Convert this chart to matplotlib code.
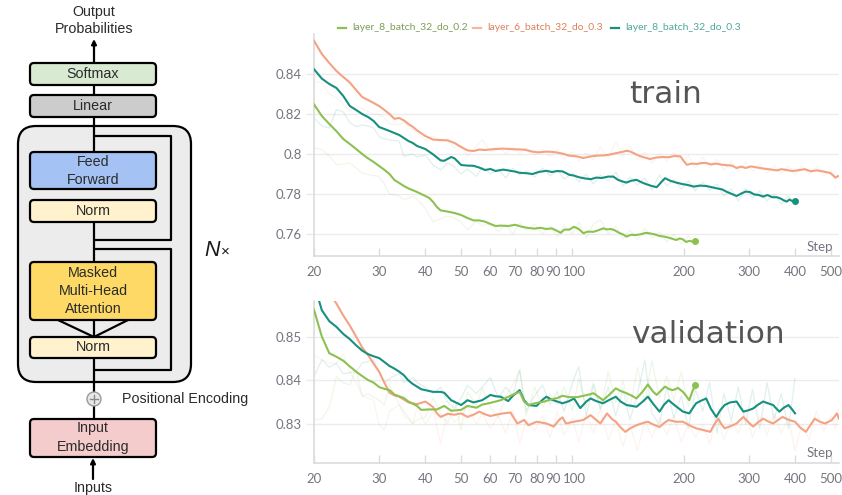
import matplotlib.pyplot as plt
from matplotlib.patches import FancyBboxPatch, Circle
from matplotlib.lines import Line2D

plt.rcParams['font.family'] = 'Lato'

GREEN = '#8cc152'
TEAL = '#17907f'
ORANGE = '#f3a384'
GREEN_TXT = '#7c9e5a'
ORANGE_TXT = '#e0805a'
TEAL_TXT = '#4fa89c'
TICK_COLOR = '#75757f'

run_names = ['layer_8_batch_32_do_0.2', 'layer_6_batch_32_do_0.3', 'layer_8_batch_32_do_0.3']
x_ticks = [20, 30, 40, 50, 60, 70, 80, 90, 100, 200, 300, 400, 500]
train_yticks = [0.76, 0.78, 0.80, 0.82, 0.84]
train_ylabels = ['0.76', '0.78', '0.8', '0.82', '0.84']
val_yticks = [0.83, 0.84, 0.85]
val_ylabels = ['0.83', '0.84', '0.85']

# ---- smoothed training accuracy ----
tr_green_x = [20, 21, 22, 23, 24, 25, 26, 27, 28, 29, 30, 31, 32, 33, 34, 35, 36, 38, 40, 41,
              42, 43, 44, 46, 48, 50, 52, 54, 56, 58, 60, 62, 64, 67, 70, 73, 76, 79, 82, 85,
              88, 91, 93, 95, 98, 101, 104, 107, 110, 114, 118, 121, 124, 127, 130, 134, 137, 140, 144, 149,
              154, 158, 162, 167, 172, 177, 182, 187, 191, 195, 199, 203, 207, 211, 215]
tr_green_y = [0.8248, 0.8190, 0.8150, 0.8114, 0.8075, 0.8050, 0.8025, 0.8000, 0.7978, 0.7960,
              0.7940, 0.7921, 0.7900, 0.7870, 0.7855, 0.7840, 0.7828, 0.7810, 0.7790, 0.7780,
              0.7760, 0.7735, 0.7718, 0.7712, 0.7705, 0.7695, 0.7680, 0.7668, 0.7668, 0.7662,
              0.7650, 0.7640, 0.7642, 0.7640, 0.7646, 0.7636, 0.7630, 0.7627, 0.7631, 0.7625,
              0.7628, 0.7615, 0.7606, 0.7622, 0.7622, 0.7636, 0.7625, 0.7604, 0.7612, 0.7611,
              0.7620, 0.7628, 0.7623, 0.7625, 0.7619, 0.7605, 0.7598, 0.7587, 0.7596, 0.7595,
              0.7600, 0.7606, 0.7603, 0.7598, 0.7590, 0.7587, 0.7582, 0.7575, 0.7570, 0.7578,
              0.7573, 0.7560, 0.7566, 0.7562, 0.7564]

tr_teal_x = [20, 21, 22, 23, 24, 25, 26, 27, 28, 29, 30, 31, 32, 33, 34, 35, 36, 37, 38, 40,
             42, 44, 45, 47, 48, 50, 52, 54, 56, 58, 60, 62, 65, 68, 70, 72, 75, 78, 81, 85,
             88, 91, 94, 96, 98, 101, 104, 108, 112, 116, 120, 125, 129, 133, 137, 140, 144, 149, 154, 159,
             164, 169, 174, 178, 184, 191, 198, 205, 213, 221, 230, 238, 246, 254, 262, 270, 278, 286, 294, 302,
             310, 319, 328, 337, 347, 357, 365, 373, 380, 386, 392, 400]
tr_teal_y = [0.8424, 0.8377, 0.8350, 0.8330, 0.8290, 0.8240, 0.8220, 0.8200, 0.8185, 0.8165,
             0.8135, 0.8125, 0.8115, 0.8105, 0.8095, 0.8080, 0.8065, 0.8055, 0.8040, 0.8025,
             0.7998, 0.7968, 0.7966, 0.7985, 0.7978, 0.7945, 0.7942, 0.7941, 0.7932, 0.7920,
             0.7925, 0.7915, 0.7922, 0.7916, 0.7912, 0.7906, 0.7904, 0.7900, 0.7910, 0.7916,
             0.7910, 0.7915, 0.7913, 0.7905, 0.7896, 0.7892, 0.7884, 0.7878, 0.7874, 0.7882,
             0.7880, 0.7887, 0.7887, 0.7870, 0.7862, 0.7857, 0.7866, 0.7871, 0.7858, 0.7848,
             0.7840, 0.7834, 0.7860, 0.7879, 0.7866, 0.7857, 0.7850, 0.7845, 0.7837, 0.7842,
             0.7840, 0.7834, 0.7828, 0.7823, 0.7810, 0.7800, 0.7790, 0.7802, 0.7812, 0.7810,
             0.7798, 0.7795, 0.7787, 0.7795, 0.7784, 0.7784, 0.7778, 0.7768, 0.7762, 0.7772,
             0.7766, 0.7765]

tr_orange_x = [20, 21, 22, 23, 24, 25, 26, 27, 28, 29, 30, 31, 32, 33, 34, 35, 36, 37, 38, 40,
               42, 44, 46, 48, 50, 52, 54, 56, 58, 61, 65, 69, 74, 78, 81, 85, 89, 94, 98, 103,
               107, 112, 117, 122, 126, 131, 136, 140, 143, 147, 152, 157, 162, 168, 175, 182, 189, 196, 200, 204,
               210, 217, 224, 230, 237, 245, 254, 262, 270, 278, 286, 294, 304, 315, 326, 336, 346, 357, 368, 380,
               392, 400, 412, 425, 440, 458, 470, 484, 498, 507, 514, 519, 526]
tr_orange_y = [0.8566, 0.8500, 0.8455, 0.8415, 0.8385, 0.8357, 0.8320, 0.8285, 0.8270, 0.8255,
               0.8240, 0.8220, 0.8200, 0.8176, 0.8180, 0.8168, 0.8150, 0.8136, 0.8118, 0.8090,
               0.8072, 0.8070, 0.8068, 0.8055, 0.8035, 0.8018, 0.8015, 0.8022, 0.8020, 0.8024,
               0.8027, 0.8024, 0.8022, 0.8012, 0.8008, 0.8012, 0.8010, 0.8002, 0.7992, 0.7988,
               0.7980, 0.7988, 0.7992, 0.7993, 0.7997, 0.8004, 0.8010, 0.8016, 0.8013, 0.8003,
               0.7990, 0.7982, 0.7975, 0.7982, 0.7985, 0.7984, 0.7990, 0.7988, 0.7965, 0.7946,
               0.7952, 0.7950, 0.7955, 0.7955, 0.7948, 0.7952, 0.7946, 0.7944, 0.7942, 0.7930,
               0.7937, 0.7930, 0.7938, 0.7933, 0.7928, 0.7925, 0.7922, 0.7918, 0.7924, 0.7920,
               0.7915, 0.7916, 0.7920, 0.7924, 0.7914, 0.7918, 0.7915, 0.7910, 0.7905, 0.7893,
               0.7882, 0.7887, 0.7890]

# ---- raw (unsmoothed) logged values ----
raw_steps = [20, 21, 22, 23, 24, 25, 26, 27, 28, 29, 30, 31, 32, 34, 35, 37, 38, 40, 42, 44,
             46, 48, 50, 52, 55, 57, 60, 63, 66, 69, 72, 75, 79, 83, 87, 91, 95, 100, 104, 109,
             114, 119, 125, 131, 137, 143, 150, 157, 164, 172, 180, 188, 197, 206, 215, 225, 235, 246, 257, 269,
             281, 294, 307, 321, 336, 351, 367, 384, 400, 418, 437, 457, 478, 500, 515, 526]

tr_green_raw = [0.8030, 0.8022, 0.7990, 0.7946, 0.7950, 0.7955, 0.7930, 0.7905, 0.7897, 0.7892,
                0.7888, 0.7850, 0.7800, 0.7790, 0.7770, 0.7790, 0.7775, 0.7728, 0.7661, 0.7675,
                0.7690, 0.7680, 0.7660, 0.7620, 0.7665, 0.7640, 0.7655, 0.7610, 0.7650, 0.7600,
                0.7655, 0.7620, 0.7650, 0.7600, 0.7640, 0.7586, 0.7645, 0.7600, 0.7660, 0.7580,
                0.7650, 0.7670, 0.7600, 0.7640, 0.7575, 0.7620, 0.7570, 0.7630, 0.7580, 0.7610,
                0.7560, 0.7600, 0.7550, 0.7590, 0.7555]
tr_teal_raw = [0.8180, 0.8140, 0.8130, 0.8223, 0.8210, 0.8156, 0.8137, 0.8145, 0.8140, 0.8130,
               0.8088, 0.8075, 0.8070, 0.8065, 0.7988, 0.8000, 0.7985, 0.7995, 0.7945, 0.7920,
               0.7955, 0.7935, 0.7900, 0.7925, 0.7888, 0.7935, 0.7900, 0.7925, 0.7880, 0.7930,
               0.7895, 0.7915, 0.7885, 0.7930, 0.7890, 0.7920, 0.7875, 0.7905, 0.7860, 0.7900,
               0.7850, 0.7895, 0.7865, 0.7910, 0.7840, 0.7885, 0.7845, 0.7880, 0.7820, 0.7895,
               0.7840, 0.7870, 0.7825, 0.7865, 0.7815, 0.7860, 0.7820, 0.7850, 0.7790, 0.7825,
               0.7765, 0.7830, 0.7780, 0.7815, 0.7765, 0.7800, 0.7750, 0.7790, 0.7745]
tr_orange_raw = [0.8360, 0.8357, 0.8300, 0.8280, 0.8250, 0.8214, 0.8240, 0.8225, 0.8214, 0.8200,
                 0.8197, 0.8180, 0.8150, 0.8147, 0.8160, 0.8120, 0.8105, 0.8070, 0.8090, 0.8060,
                 0.8075, 0.8030, 0.8045, 0.7988, 0.8040, 0.8072, 0.8010, 0.8040, 0.8000, 0.8035,
                 0.8005, 0.8030, 0.7995, 0.8025, 0.7990, 0.8020, 0.7975, 0.8010, 0.7965, 0.8005,
                 0.7970, 0.8035, 0.7980, 0.8060, 0.7995, 0.8040, 0.7970, 0.8010, 0.7955, 0.8005,
                 0.7965, 0.8010, 0.7960, 0.7990, 0.7930, 0.7985, 0.7935, 0.7975, 0.7920, 0.7965,
                 0.7910, 0.7960, 0.7915, 0.7950, 0.7905, 0.7945, 0.7900, 0.7940, 0.7895, 0.7945,
                 0.7895, 0.7935, 0.7890, 0.7920, 0.7870, 0.7900]

# ---- smoothed validation accuracy ----
va_green_x = [20, 21, 22, 23, 24, 25, 26, 27, 28, 29, 30, 31, 32, 33, 35, 36, 38, 39, 41, 43,
              45, 47, 50, 52, 55, 57, 60, 64, 68, 70, 72, 74, 76, 80, 84, 87, 91, 94, 98, 103,
              107, 111, 114, 118, 121, 126, 131, 135, 140, 145, 149, 155, 160, 165, 169, 174, 178, 183, 187, 193,
              199, 203, 207, 211, 215]
va_green_y = [0.8561, 0.8500, 0.8462, 0.8454, 0.8445, 0.8432, 0.8420, 0.8410, 0.8401, 0.8395,
              0.8385, 0.8381, 0.8378, 0.8368, 0.8360, 0.8352, 0.8342, 0.8333, 0.8334, 0.8334,
              0.8342, 0.8331, 0.8333, 0.8342, 0.8338, 0.8345, 0.8349, 0.8355, 0.8365, 0.8370,
              0.8374, 0.8352, 0.8344, 0.8349, 0.8352, 0.8356, 0.8360, 0.8365, 0.8362, 0.8362,
              0.8365, 0.8368, 0.8371, 0.8362, 0.8355, 0.8368, 0.8382, 0.8376, 0.8371, 0.8365,
              0.8359, 0.8375, 0.8391, 0.8375, 0.8367, 0.8378, 0.8386, 0.8380, 0.8378, 0.8383,
              0.8374, 0.8365, 0.8355, 0.8375, 0.8389]

va_teal_x = [20, 21, 22, 23, 24, 25, 26, 27, 28, 29, 30, 31, 32, 33, 34, 35, 36, 37, 39, 42,
             44, 45, 47, 50, 52, 54, 57, 60, 62, 64, 67, 69, 72, 74, 76, 80, 83, 85, 88, 91,
             94, 98, 101, 105, 109, 112, 116, 121, 126, 131, 135, 140, 145, 149, 155, 160, 166, 172, 177, 182,
             190, 199, 207, 212, 216, 223, 230, 237, 245, 251, 258, 267, 278, 284, 290, 299, 308, 318, 328, 338,
             349, 356, 363, 373, 384, 392, 400]
va_teal_y = [0.8620, 0.8560, 0.8535, 0.8522, 0.8506, 0.8494, 0.8480, 0.8468, 0.8460, 0.8455,
             0.8451, 0.8442, 0.8433, 0.8427, 0.8420, 0.8412, 0.8400, 0.8392, 0.8380, 0.8374,
             0.8374, 0.8372, 0.8355, 0.8344, 0.8355, 0.8350, 0.8355, 0.8367, 0.8364, 0.8363,
             0.8353, 0.8365, 0.8378, 0.8355, 0.8344, 0.8342, 0.8356, 0.8363, 0.8356, 0.8352,
             0.8348, 0.8353, 0.8359, 0.8337, 0.8352, 0.8359, 0.8353, 0.8348, 0.8356, 0.8363,
             0.8352, 0.8344, 0.8342, 0.8340, 0.8352, 0.8363, 0.8345, 0.8329, 0.8345, 0.8355,
             0.8342, 0.8329, 0.8325, 0.8338, 0.8348, 0.8354, 0.8359, 0.8335, 0.8317, 0.8332,
             0.8344, 0.8350, 0.8352, 0.8340, 0.8329, 0.8332, 0.8336, 0.8345, 0.8352, 0.8348,
             0.8344, 0.8336, 0.8329, 0.8338, 0.8344, 0.8335, 0.8325]

va_orange_x = [20, 21, 22, 23, 24, 25, 26, 27, 28, 29, 30, 31, 32, 33, 34, 36, 38, 40, 41, 42,
               43, 44, 46, 48, 50, 52, 54, 56, 58, 60, 63, 65, 68, 70, 71, 74, 76, 80, 85, 89,
               92, 94, 96, 101, 107, 112, 116, 119, 124, 128, 131, 135, 139, 144, 149, 155, 160, 166, 172, 177,
               182, 190, 199, 207, 216, 226, 236, 242, 248, 253, 258, 268, 278, 284, 290, 299, 308, 318, 328, 338,
               349, 360, 370, 385, 400, 414, 428, 440, 452, 467, 482, 493, 503, 512, 519, 526]
va_orange_y = [0.8680, 0.8640, 0.8600, 0.8575, 0.8548, 0.8525, 0.8500, 0.8475, 0.8458, 0.8438,
               0.8420, 0.8395, 0.8372, 0.8366, 0.8363, 0.8350, 0.8346, 0.8352, 0.8346, 0.8339,
               0.8325, 0.8317, 0.8324, 0.8322, 0.8325, 0.8317, 0.8322, 0.8329, 0.8323, 0.8319,
               0.8323, 0.8325, 0.8327, 0.8310, 0.8302, 0.8310, 0.8298, 0.8306, 0.8302, 0.8295,
               0.8310, 0.8316, 0.8302, 0.8306, 0.8310, 0.8321, 0.8310, 0.8302, 0.8325, 0.8312,
               0.8306, 0.8293, 0.8283, 0.8292, 0.8298, 0.8303, 0.8306, 0.8299, 0.8294, 0.8303,
               0.8310, 0.8306, 0.8306, 0.8298, 0.8291, 0.8287, 0.8283, 0.8300, 0.8313, 0.8300,
               0.8291, 0.8296, 0.8302, 0.8310, 0.8317, 0.8305, 0.8295, 0.8305, 0.8313, 0.8307,
               0.8302, 0.8310, 0.8317, 0.8310, 0.8306, 0.8292, 0.8283, 0.8298, 0.8313, 0.8306,
               0.8302, 0.8306, 0.8310, 0.8318, 0.8325, 0.8313]

va_green_raw = [0.8310, 0.8312, 0.8340, 0.8409, 0.8395, 0.8390, 0.8424, 0.8363, 0.8370, 0.8362,
                0.8355, 0.8344, 0.8390, 0.8345, 0.8330, 0.8302, 0.8310, 0.8317, 0.8360, 0.8325,
                0.8302, 0.8355, 0.8287, 0.8374, 0.8345, 0.8383, 0.8340, 0.8315, 0.8365, 0.8390,
                0.8424, 0.8320, 0.8385, 0.8340, 0.8370, 0.8345, 0.8385, 0.8330, 0.8405, 0.8340,
                0.8395, 0.8335, 0.8420, 0.8350, 0.8400, 0.8335, 0.8430, 0.8350, 0.8445, 0.8360,
                0.8410, 0.8355, 0.8420, 0.8340, 0.8400]
va_teal_raw = [0.8409, 0.8447, 0.8430, 0.8439, 0.8415, 0.8418, 0.8420, 0.8440, 0.8443, 0.8447,
               0.8420, 0.8394, 0.8405, 0.8416, 0.8395, 0.8407, 0.8395, 0.8384, 0.8370, 0.8385,
               0.8350, 0.8336, 0.8360, 0.8389, 0.8370, 0.8385, 0.8407, 0.8360, 0.8385, 0.8365,
               0.8424, 0.8330, 0.8365, 0.8390, 0.8345, 0.8375, 0.8330, 0.8395, 0.8432, 0.8320,
               0.8390, 0.8335, 0.8385, 0.8320, 0.8380, 0.8310, 0.8370, 0.8447, 0.8325, 0.8300,
               0.8385, 0.8315, 0.8365, 0.8290, 0.8380, 0.8330, 0.8395, 0.8280, 0.8370, 0.8310,
               0.8385, 0.8300, 0.8380, 0.8290, 0.8395, 0.8310, 0.8370, 0.8290, 0.8405]
va_orange_raw = [0.8458, 0.8447, 0.8440, 0.8439, 0.8461, 0.8420, 0.8394, 0.8366, 0.8360, 0.8355,
                 0.8300, 0.8287, 0.8330, 0.8344, 0.8320, 0.8302, 0.8340, 0.8300, 0.8330, 0.8257,
                 0.8330, 0.8305, 0.8320, 0.8340, 0.8300, 0.8325, 0.8290, 0.8320, 0.8280, 0.8330,
                 0.8257, 0.8310, 0.8285, 0.8320, 0.8270, 0.8330, 0.8275, 0.8315, 0.8260, 0.8325,
                 0.8280, 0.8335, 0.8265, 0.8310, 0.8250, 0.8300, 0.8240, 0.8310, 0.8270, 0.8315,
                 0.8275, 0.8320, 0.8260, 0.8305, 0.8270, 0.8300, 0.8255, 0.8320, 0.8265, 0.8310,
                 0.8280, 0.8330, 0.8270, 0.8320, 0.8275, 0.8325, 0.8280, 0.8315, 0.8240, 0.8300,
                 0.8265, 0.8330, 0.8285, 0.8320, 0.8290, 0.8335]


fig = plt.figure(figsize=(8.42, 4.95), dpi=100)

# ================= decoder block diagram (pixel coordinates) =================
ad = fig.add_axes([0, 0, 260 / 842, 1])
ad.set_xlim(0, 260)
ad.set_ylim(495, 0)
ad.axis('off')

DFONT = 'Liberation Sans'
DTXT = '#2b2b2b'
LW = 1.6
CX = 94


def box(y0, y1, fc, labels):
    ad.add_patch(FancyBboxPatch((30, y0), 126, y1 - y0,
                                boxstyle='round,pad=0,rounding_size=4',
                                fc=fc, ec='black', lw=LW, zorder=3))
    for text, y in labels:
        ad.text(93, y, text, ha='center', va='center', fontsize=10.3,
                family=DFONT, color=DTXT, zorder=4)


def seg(xs, ys):
    ad.plot(xs, ys, color='black', lw=LW, solid_capstyle='butt', zorder=2)


# the repeated N x block
ad.add_patch(FancyBboxPatch((18, 126), 173, 256,
                            boxstyle='round,pad=0,rounding_size=18',
                            fc='#ececec', ec='black', lw=LW, zorder=1))

seg([CX, CX], [85, 95])
seg([CX, CX], [117, 152])
seg([CX, 171, 171, CX], [136, 136, 240, 240])
seg([CX, CX], [222, 262])
seg([CX, 171, 171, CX], [249, 249, 370, 370])
seg([58, CX, 128], [320, 337, 320])
seg([CX, CX], [320, 337])
seg([CX, CX], [358, 392])
seg([CX, CX], [406, 419])

ad.annotate('', xy=(CX, 39), xytext=(CX, 63),
            arrowprops=dict(arrowstyle='-|>', color='black', lw=LW,
                            mutation_scale=7, shrinkA=0, shrinkB=0))
ad.annotate('', xy=(93, 458), xytext=(93, 479),
            arrowprops=dict(arrowstyle='-|>', color='black', lw=LW,
                            mutation_scale=7, shrinkA=0, shrinkB=0))

box(63, 85, '#d9ead3', [('Softmax', 74)])
box(95, 117, '#cccccc', [('Linear', 106)])
box(152, 189, '#a4c2f4', [('Feed', 162), ('Forward', 180)])
box(200, 222, '#fff2cc', [('Norm', 211)])
box(262, 320, '#ffd966', [('Masked', 273), ('Multi-Head', 291), ('Attention', 309)])
box(337, 358, '#fff2cc', [('Norm', 347)])
box(419, 457, '#f4cccc', [('Input', 428), ('Embedding', 447)])

# positional encoding adder
ad.add_patch(Circle((CX, 399), 7, fc='#e8e8e8', ec='#9a9a9a', lw=1.0, zorder=3))
ad.plot([CX - 4, CX + 4], [399, 399], color='#8a8a8a', lw=1.0, zorder=4)
ad.plot([CX, CX], [395, 403], color='#8a8a8a', lw=1.0, zorder=4)

ad.text(94, 12, 'Output', ha='center', va='center', fontsize=10.3, family=DFONT, color=DTXT)
ad.text(94, 29, 'Probabilities', ha='center', va='center', fontsize=10.3, family=DFONT, color=DTXT)
ad.text(122, 399, 'Positional Encoding', ha='left', va='center', fontsize=10.3,
        family=DFONT, color=DTXT)
ad.text(93, 488, 'Inputs', ha='center', va='center', fontsize=10.3, family=DFONT, color=DTXT)
ad.text(204, 250, 'N', ha='left', va='center', fontsize=15.5, fontstyle='italic',
        family=DFONT, color='#1a1a1a')
ad.text(221, 252, '×', ha='left', va='center', fontsize=11, family=DFONT, color='#1a1a1a')

# ================= accuracy curves =================
ax_t = fig.add_axes([314 / 842, 1 - 256 / 495, 525 / 842, 222 / 495])
ax_v = fig.add_axes([314 / 842, 1 - 463 / 495, 525 / 842, 162 / 495])

TICK_FS = 9.5
# 90 and 100 sit very close on the log axis, so they get hand-placed labels
nudged = {90: -1.5, 100: 1.5}   # horizontal offsets, points


def style(ax, yticks, ylabels, ylim):
    ax.set_xscale('log')
    ax.set_xlim(20, 526)
    ax.set_ylim(*ylim)
    ax.set_xticks(x_ticks)
    ax.set_xticklabels(['' if t in nudged else str(t) for t in x_ticks])
    ax.minorticks_off()
    ax.set_yticks(yticks)
    ax.set_yticklabels(ylabels)
    for s in ('top', 'right'):
        ax.spines[s].set_visible(False)
    for s in ('left', 'bottom'):
        ax.spines[s].set_color('#dcdcdc')
        ax.spines[s].set_linewidth(1.2)
    ax.grid(axis='y', color='#ececec', lw=1.0)
    ax.set_axisbelow(True)
    ax.tick_params(axis='x', direction='in', length=6, width=1, color='#dcdcdc',
                   labelsize=TICK_FS, labelcolor=TICK_COLOR, pad=7)
    ax.tick_params(axis='y', direction='out', length=6, width=1, color='#ececec',
                   labelsize=TICK_FS, labelcolor=TICK_COLOR, pad=3)
    ax.patch.set_alpha(0)
    for t, dx in nudged.items():
        ax.annotate(str(t), xy=(t, 0), xycoords=ax.get_xaxis_transform(),
                    xytext=(dx, -7), textcoords='offset points', ha='center', va='top',
                    fontsize=TICK_FS, color=TICK_COLOR, annotation_clip=False)


def draw(ax, raw, x, y, color, end_dot):
    ax.plot(raw_steps[:len(raw)], raw, color=color, lw=0.9, alpha=0.13, zorder=2)
    ax.plot(x, y, color=color, lw=1.5, zorder=3)
    if end_dot:
        ax.plot(x[-1], y[-1], 'o', color=color, ms=4, zorder=4)


style(ax_t, train_yticks, train_ylabels, (0.749, 0.860))
draw(ax_t, tr_orange_raw, tr_orange_x, tr_orange_y, ORANGE, False)
draw(ax_t, tr_teal_raw, tr_teal_x, tr_teal_y, TEAL, True)
draw(ax_t, tr_green_raw, tr_green_x, tr_green_y, GREEN, True)

style(ax_v, val_yticks, val_ylabels, (0.8212, 0.8581))
draw(ax_v, va_orange_raw, va_orange_x, va_orange_y, ORANGE, False)
draw(ax_v, va_teal_raw, va_teal_x, va_teal_y, TEAL, False)
draw(ax_v, va_green_raw, va_green_x, va_green_y, GREEN, True)

for ax, ypos in ((ax_t, 0.04), (ax_v, 0.062)):
    ax.text(0.989, ypos, 'Step', transform=ax.transAxes, ha='right', va='center',
            fontsize=TICK_FS, color=TICK_COLOR)

fig.text(666 / 842, 1 - 103 / 495, 'train', ha='center', va='baseline',
         fontsize=22.5, family='DejaVu Sans', color='#555555')
fig.text(708 / 842, 1 - 343 / 495, 'validation', ha='center', va='baseline',
         fontsize=22.5, family='DejaVu Sans', color='#555555')

# legend row
legend_y = 1 - 28 / 495
for name, x0, c, tc in zip(run_names, (338, 473, 611), (GREEN, '#f7b79a', TEAL),
                           (GREEN_TXT, ORANGE_TXT, TEAL_TXT)):
    fig.add_artist(Line2D([x0 / 842, (x0 + 8) / 842], [legend_y, legend_y],
                          color=c, lw=1.6, transform=fig.transFigure))
    fig.text((x0 + 14) / 842, legend_y, name, ha='left', va='center',
             fontsize=7.5, color=tc)

fig.savefig('out.png', dpi=100)
